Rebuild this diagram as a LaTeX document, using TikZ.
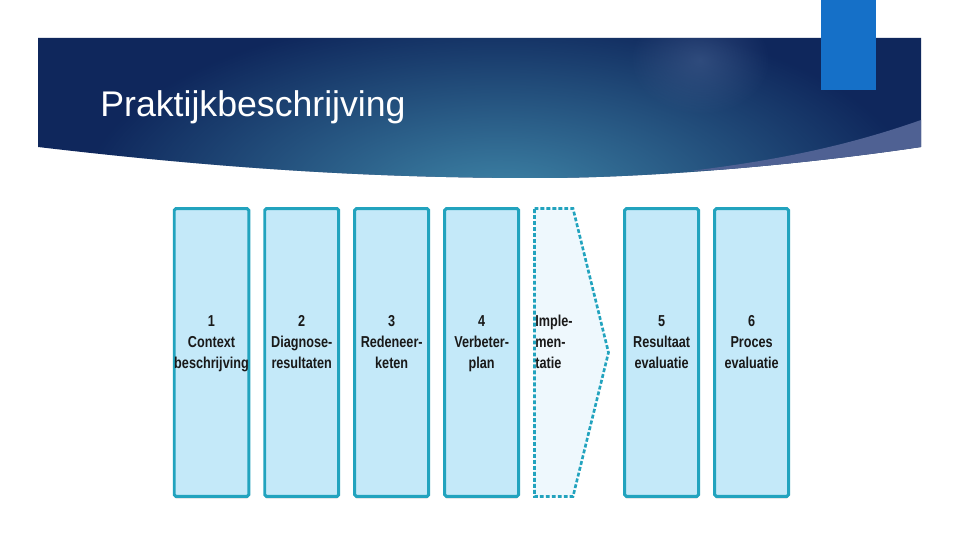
\documentclass[tikz,border=0pt]{standalone}
\usepackage{fontspec}
\setmainfont{Liberation Sans}
\newfontfamily\stepfont{Liberation Sans}[FakeStretch=0.8]
\usetikzlibrary{positioning,shadows,fadings}
\definecolor{navy}{HTML}{0F275C}
\definecolor{glowblue}{HTML}{3F86A8}
\definecolor{spotblue}{HTML}{4A6494}
\definecolor{wedgeblue}{HTML}{4F6193}
\definecolor{tabblue}{HTML}{1570C8}
\definecolor{boxline}{HTML}{22A3BE}
\definecolor{boxfill}{HTML}{C4E9F9}
\definecolor{implfill}{HTML}{EEF8FD}
\tikzfading[name=glow, inner color=transparent!0, outer color=transparent!100]
\tikzset{
  stepbox/.style  = {shape=rectangle, rounded corners=1pt,
                     draw=boxline, line width=1.7pt, fill=boxfill,
                     minimum width=1.48cm, minimum height=5.76cm,
                     inner sep=0pt, align=center,
                     font=\stepfont\bfseries\fontsize{9}{11.9}\selectfont,
                     text=black!90,
                     drop shadow={shadow xshift=0pt, shadow yshift=-1.2pt, opacity=0.3}},
  impltext/.style = {align=left, inner sep=0pt, anchor=west,
                     font=\stepfont\bfseries\fontsize{9}{11.9}\selectfont,
                     text=black!90},
  title/.style    = {anchor=base west, inner sep=0pt, text=white,
                     font=\fontsize{20.3}{24}\selectfont}
}
\begin{document}
\begin{tikzpicture}[x=0.02cm, y=-0.02cm]
  \useasboundingbox (0,0) rectangle (960,540);
  \fill[white] (0,0) rectangle (960,540);

  % banner
  \fill[navy] (38,38) -- (921,38) -- (921,147)
    .. controls (800,165) and (650,178) .. (540,178)
    .. controls (400,178) and (250,172) .. (38,147) -- cycle;
  \begin{scope}
    \clip (38,38) -- (921,38) -- (921,147)
      .. controls (800,165) and (650,178) .. (540,178)
      .. controls (400,178) and (250,172) .. (38,147) -- cycle;
    \fill[glowblue, path fading=glow] (500,200) ellipse (420 and 190);
    \fill[spotblue, path fading=glow, opacity=0.5] (700,60) ellipse (70 and 55);
    \fill[wedgeblue] (921,120) .. controls (850,145) and (780,160) .. (690,171)
      .. controls (780,168) and (860,157) .. (921,147) -- cycle;
  \end{scope}
  \fill[tabblue] (821,0) rectangle (876,90);
  \node[title] (head) at (100,117) {Praktijkbeschrijving};

  % steps
  \node[stepbox] (context) at (211.5,352.5) {1\\Context\\beschrijving\\~};
  \node[stepbox, right=0.26cm of context] (diagnose) {2\\Diagnose-\\resultaten\\~};
  \node[stepbox, right=0.26cm of diagnose] (keten) {3\\Redeneer-\\keten\\~};
  \node[stepbox, right=0.26cm of keten] (plan) {4\\Verbeter-\\plan\\~};
  \node[stepbox, right=2.06cm of plan] (resultaat) {5\\Resultaat\\evaluatie\\~};
  \node[stepbox, right=0.26cm of resultaat] (proces) {6\\Proces\\evaluatie\\~};

  % implementatie
  \draw[boxline, fill=implfill, line width=1.5pt, dash pattern=on 2.2pt off 1.2pt]
    (534.5,208.5) -- (573,208.5) -- (608.5,352.5) -- (573,496.5)
    -- (534.5,496.5) -- cycle;
  \node[impltext] (impl) at (535,352.5) {Imple-\\men-\\tatie\\~};
\end{tikzpicture}
\end{document}
